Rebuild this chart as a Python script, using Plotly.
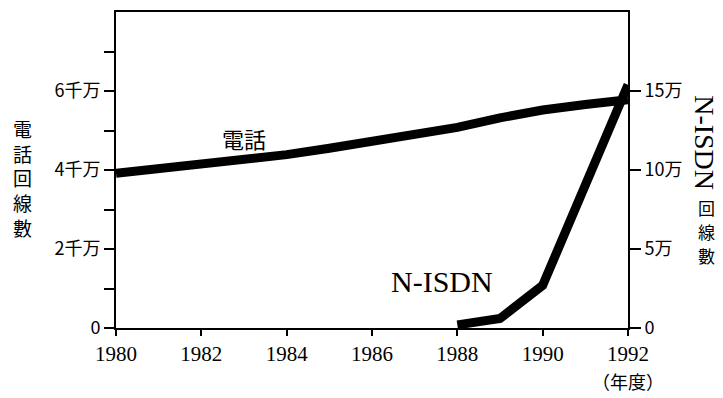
import plotly.graph_objects as go

years_tel = [1980, 1981, 1982, 1983, 1984, 1985, 1986, 1987, 1988, 1989, 1990, 1991, 1992]
tel_lines = [3.92, 4.03, 4.15, 4.27, 4.39, 4.55, 4.72, 4.88, 5.08, 5.32, 5.52, 5.66, 5.78]  # 千万
years_isdn = [1988, 1989, 1990, 1991, 1992]
isdn_lines = [0.2, 0.6, 2.7, 9.0, 15.4]  # 万

x_ticks = [1980, 1982, 1984, 1986, 1988, 1990, 1992]
left_tickvals = [0, 1, 2, 3, 4, 5, 6, 7]
left_ticktext = ["0", "", "2千万", "", "4千万", "", "6千万", ""]
right_tickvals = [0, 5, 10, 15]
right_ticktext = ["0", "5万", "10万", "15万"]

SERIF = "Liberation Serif, Times New Roman, serif"
SANS = "Noto Sans CJK JP, sans-serif"

fig = go.Figure()
fig.add_trace(go.Scatter(x=years_tel, y=tel_lines, mode="lines",
                         line=dict(color="black", width=9), yaxis="y", showlegend=False))
fig.add_trace(go.Scatter(x=years_isdn, y=isdn_lines, mode="lines",
                         line=dict(color="black", width=9), yaxis="y2", showlegend=False))

fig.update_layout(
    width=723, height=398,
    margin=dict(l=116, r=95, t=10, b=70),
    paper_bgcolor="white", plot_bgcolor="white",
    xaxis=dict(range=[1980, 1992], tickvals=x_ticks, ticktext=[str(v) for v in x_ticks],
               showline=True, linecolor="black", linewidth=2, mirror=True,
               ticks="outside", ticklen=6, tickwidth=2, tickcolor="black",
               showgrid=False, zeroline=False,
               tickfont=dict(family=SERIF, size=21, color="black")),
    yaxis=dict(range=[0, 8], tickvals=left_tickvals, ticktext=left_ticktext,
               showline=True, linecolor="black", linewidth=2,
               ticks="outside", ticklen=10, tickwidth=2, tickcolor="black",
               showgrid=False, zeroline=False,
               tickfont=dict(family=SANS, size=18, color="black")),
    yaxis2=dict(range=[0, 20], tickvals=right_tickvals, ticktext=right_ticktext,
                overlaying="y", side="right",
                showline=True, linecolor="black", linewidth=2,
                ticks="outside", ticklen=11, tickwidth=2, tickcolor="black",
                showgrid=False, zeroline=False,
                tickfont=dict(family=SANS, size=18, color="black")),
)

annotations = [
    dict(text="電話", x=1983.0, y=4.8, xref="x", yref="y",
         font=dict(family=SANS, size=22, color="black")),
    dict(text="N-ISDN", x=1987.65, y=1.18, xref="x", yref="y",
         font=dict(family=SERIF, size=30, color="black")),
    dict(text="（年度）", x=1992, y=(328 - 381) / 318, xref="x", yref="paper",
         font=dict(family=SANS, size=18, color="black")),
    dict(text="N-ISDN", x=(705 - 116) / 512, y=(328 - 141) / 318, xref="paper", yref="paper",
         textangle=90, font=dict(family=SERIF, size=28, color="black")),
    dict(text="電<br>話<br>回<br>線<br>數", x=(22 - 116) / 512, y=(328 - 177) / 318,
         xref="paper", yref="paper", font=dict(family=SANS, size=19, color="black")),
]
for ch, yc in zip(["回", "線", "數"], [207, 231, 255]):
    annotations.append(dict(text=ch, x=(706 - 116) / 512, y=(328 - yc) / 318,
                            xref="paper", yref="paper",
                            font=dict(family=SANS, size=17, color="black")))
for a in annotations:
    a.update(showarrow=False, xanchor="center", yanchor="middle")
fig.update_layout(annotations=annotations)

fig.write_html("out.html", config={"displayModeBar": False},
               post_script="document.body.style.margin='0';")
